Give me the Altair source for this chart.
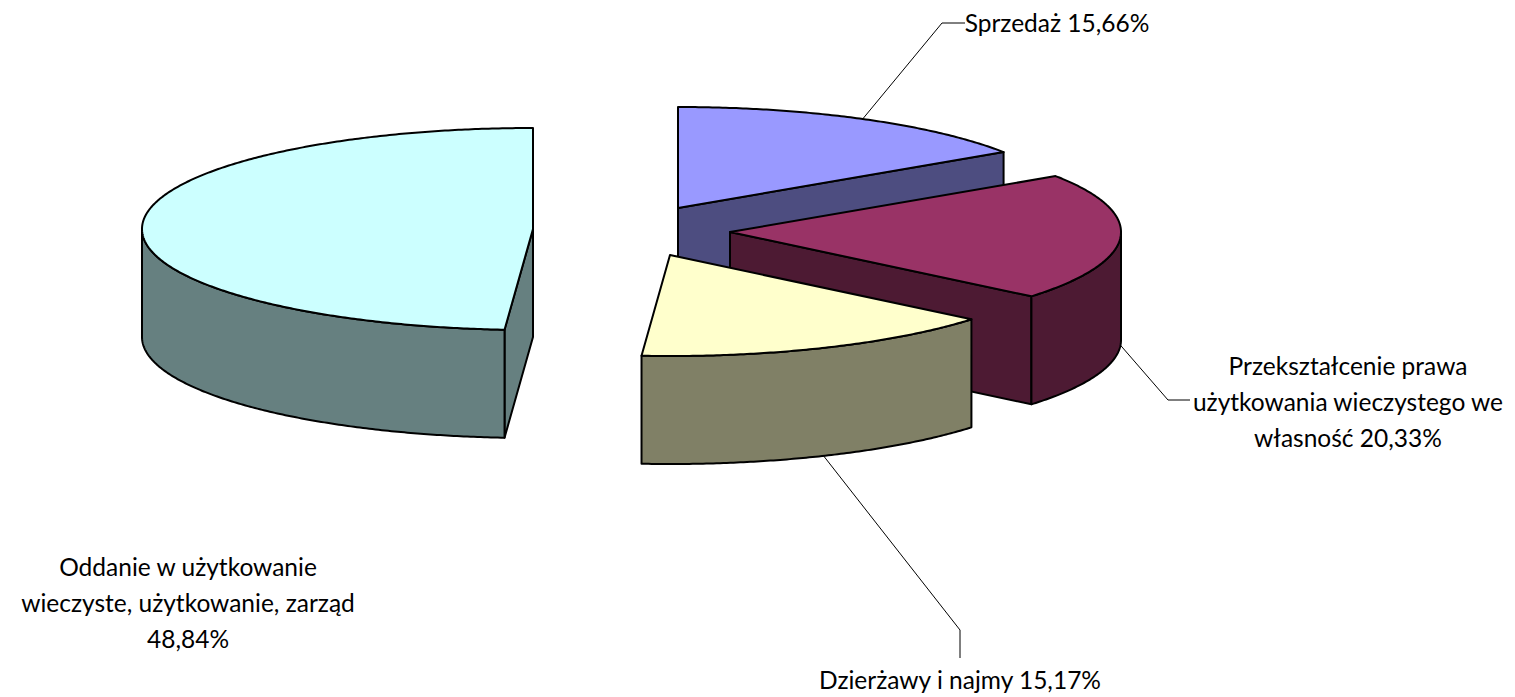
import math
import altair as alt
import pandas as pd

categories = ["Sprzedaż", "Przekształcenie prawa użytkowania wieczystego we własność",
              "Dzierżawy i najmy", "Oddanie w użytkowanie wieczyste, użytkowanie, zarząd"]
shares = [15.66, 20.33, 15.17, 48.84]
top_colors = ["#9999FF", "#993366", "#FFFFCC", "#CCFFFF"]
side_colors = ["#4D4D80", "#4D1A33", "#808066", "#668080"]
label_lines = [
    ["Sprzedaż 15,66%"],
    ["Przekształcenie prawa", "użytkowania wieczystego we", "własność 20,33%"],
    ["Dzierżawy i najmy 15,17%"],
    ["Oddanie w użytkowanie", "wieczyste, użytkowanie, zarząd", "48,84%"],
]

# pie projection (page pixels minus the 8px page margin)
M = 8
RX, RY, DEPTH = 391.0, 101.0, 108.0
APEX = [(678, 208), (730, 232), (670, 255), (533, 229)]
LABEL_X = [1057, 1348, 960, 188]
LABEL_FIRST_Y = [25, 368, 682, 569]
LINE_H = 36
LEADER_ELBOWS = [[(942, 23), (965, 23)], [(1168, 400), (1190, 400)], [(960, 630), (960, 658)], None]
LEADER_DROP = [0, DEPTH, DEPTH, 0]


def rim(i, deg, drop=0.0):
    t = math.radians(deg)
    ax, ay = APEX[i]
    return [ax + RX * math.sin(t) - M, ay - RY * math.cos(t) + drop - M]


def arc(i, a, b, drop=0.0):
    n = max(2, int(abs(b - a) * 2))
    return [rim(i, a + (b - a) * k / n, drop) for k in range(n + 1)]


def feat(coords, fill, kind="Polygon"):
    geometry = {"type": kind, "coordinates": [coords] if kind == "Polygon" else coords}
    return {"type": "Feature", "geometry": geometry, "properties": {"fill": fill}}


starts = []
acc = 0.0
for s in shares:
    starts.append(acc * 3.6)
    acc += s
ends = [a + s * 3.6 for a, s in zip(starts, shares)]

features = []
for i in [0, 3, 1, 2]:  # back to front
    a, b = starts[i], ends[i]
    ax, ay = APEX[i][0] - M, APEX[i][1] - M
    # cut faces that turn towards the viewer
    for deg, sign in ((a, 1), (b, -1)):
        if sign * math.sin(math.radians(deg)) < -1e-9:
            face = [[ax, ay], rim(i, deg), rim(i, deg, DEPTH), [ax, ay + DEPTH], [ax, ay]]
            features.append(feat(face, side_colors[i]))
    # outer wall on the front half of the ellipse
    lo, hi = max(a, 90), min(b, 270)
    if lo < hi:
        wall = arc(i, lo, hi) + arc(i, hi, lo, DEPTH)
        wall.append(wall[0])
        features.append(feat(wall, side_colors[i]))
    features.append(feat([[ax, ay]] + arc(i, a, b) + [[ax, ay]], top_colors[i]))

leaders = []
for i, elbow in enumerate(LEADER_ELBOWS):
    if elbow is None:
        continue
    mid = (starts[i] + ends[i]) / 2
    pts = [rim(i, mid, LEADER_DROP[i])] + [[x - M, y - M] for x, y in elbow]
    leaders.append(feat(pts, "none", "LineString"))

rows = []
for i, lines in enumerate(label_lines):
    for j, line in enumerate(lines):
        rows.append({"text": line, "lon": LABEL_X[i] - M, "lat": LABEL_FIRST_Y[i] + j * LINE_H - M})
labels = pd.DataFrame(rows)

proj = dict(type="identity", scale=1, translate=[0, 0])

pie = alt.Chart(alt.Data(values=features)).mark_geoshape(
    stroke="#000000", strokeWidth=2, strokeJoin="round"
).encode(fill=alt.Fill("properties.fill:N", scale=None)).project(**proj)

lead = alt.Chart(alt.Data(values=leaders)).mark_geoshape(
    filled=False, stroke="#000000", strokeWidth=1
).project(**proj)

text = alt.Chart(labels).mark_text(
    font="Lato", fontSize=24.5, color="#000000", align="center", baseline="middle"
).encode(longitude="lon:Q", latitude="lat:Q", text="text:N").project(**proj)

chart = alt.layer(pie, lead, text).properties(
    width=1499, height=688, padding=0, autosize=alt.AutoSizeParams(type="none"), background="#FFFFFF"
).configure_view(stroke=None)

chart.save("out.html", embed_options={"renderer": "svg", "actions": False})
